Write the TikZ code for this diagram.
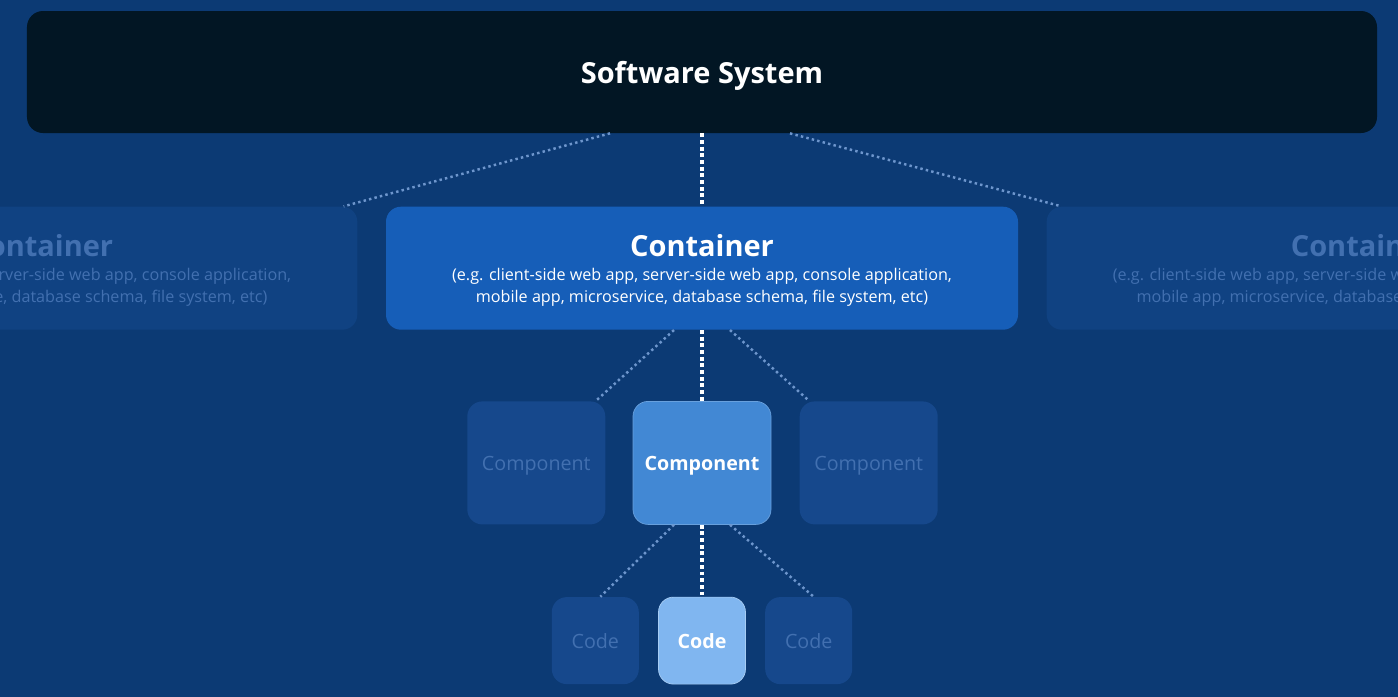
\documentclass[tikz,border=0pt]{standalone}
\usepackage{fontspec}
\setmainfont{Open Sans}
\usetikzlibrary{positioning}
\usetikzlibrary{calc}

\definecolor{bgcol}{RGB}{12,58,116}
\definecolor{syscol}{RGB}{2,22,36}
\definecolor{contcol}{RGB}{22,94,184}
\definecolor{ghostcontcol}{RGB}{16,66,130}
\definecolor{ghosttextcol}{RGB}{66,112,176}
\definecolor{compcol}{RGB}{66,136,212}
\definecolor{ghostcompcol}{RGB}{22,72,140}
\definecolor{codecol}{RGB}{128,182,240}
\definecolor{linecol}{RGB}{110,150,205}

\newcommand{\conttitle}[1]{{\fontsize{16.5}{20}\selectfont\bfseries #1}}

\begin{document}
\begin{tikzpicture}[
    system/.style={align=center, rectangle, rounded corners=0.32cm, fill=syscol, text=white, minimum width=27cm, minimum height=2.44cm, text depth=0pt, font=\fontsize{16.5}{20}\selectfont\bfseries},
    box/.style={align=center, rectangle, rounded corners=0.3cm, fill=contcol, text=white, minimum width=12.64cm, minimum height=2.46cm, text depth=0pt, font=\fontsize{9.2}{12.5}\selectfont},
    ghostbox/.style={box, fill=ghostcontcol, text=ghosttextcol},
    comp/.style={rectangle, rounded corners=0.3cm, fill=compcol, draw=compcol!80!white, text=white, minimum width=2.76cm, minimum height=2.46cm, text depth=0pt, font=\fontsize{11.2}{13}\selectfont\bfseries},
    ghostcomp/.style={comp, fill=ghostcompcol, draw=none, text=ghosttextcol, font=\fontsize{11.2}{13}\selectfont},
    codebox/.style={comp, fill=codecol, draw=codecol!70!white, minimum width=1.74cm, minimum height=1.74cm},
    ghostcode/.style={ghostcomp, minimum width=1.74cm, minimum height=1.74cm},
    mainline/.style={draw=white, line width=2.2pt, dash pattern=on 2.2pt off 1.6pt},
    sideline/.style={draw=linecol, line width=1.4pt, dash pattern=on 1.4pt off 1.8pt}
]
    \useasboundingbox (0,0) rectangle (27.96,-13.94);
    \fill[bgcol] (0,0) rectangle (27.96,-13.94);
    \clip (0,0) rectangle (27.96,-13.94);

    \node[system] (S1) at (14.04,-1.44) {Software System};

    \node[box] (C1) [below=1.46cm of S1] {\conttitle{Container}\\[1.3pt] (e.g. client-side web app, server-side web app, console application,\\ mobile app, microservice, database schema, file system, etc)};
    \node[ghostbox] (C0) [left=0.56cm of C1] {\conttitle{Container}\\[1.3pt] (e.g. client-side web app, server-side web app, console application,\\ mobile app, microservice, database schema, file system, etc)};
    \node[ghostbox] (C2) [right=0.56cm of C1] {\conttitle{Container}\\[1.3pt] (e.g. client-side web app, server-side web app, console application,\\ mobile app, microservice, database schema, file system, etc)};

    \node[comp] (K1) [below=1.42cm of C1] {Component};
    \node[ghostcomp] (K0) [left=0.54cm of K1] {Component};
    \node[ghostcomp] (K2) [right=0.56cm of K1] {Component};

    \node[codebox] (D1) [below=1.44cm of K1] {Code};
    \node[ghostcode] (D0) [left=0.38cm of D1] {Code};
    \node[ghostcode] (D2) [right=0.38cm of D1] {Code};

    \draw[mainline] (S1.south) -- (C1.north);
    \draw[sideline] ($(S1.south)+(-1.84,0)$) -- ($(C0.north east)+(-0.28,0)$);
    \draw[sideline] ($(S1.south)+(1.76,0)$) -- ($(C2.north west)+(0.3,0)$);

    \draw[mainline] (C1.south) -- (K1.north);
    \draw[sideline] ($(C1.south)+(-0.56,0)$) -- ($(K0.north east)+(-0.2,0)$);
    \draw[sideline] ($(C1.south)+(0.56,0)$) -- ($(K2.north west)+(0.2,0)$);

    \draw[mainline] (K1.south) -- (D1.north);
    \draw[sideline] ($(K1.south)+(-0.56,0)$) -- ($(D0.north)+(0.1,0)$);
    \draw[sideline] ($(K1.south)+(0.56,0)$) -- ($(D2.north)+(0.1,0)$);

\end{tikzpicture}
\end{document}
